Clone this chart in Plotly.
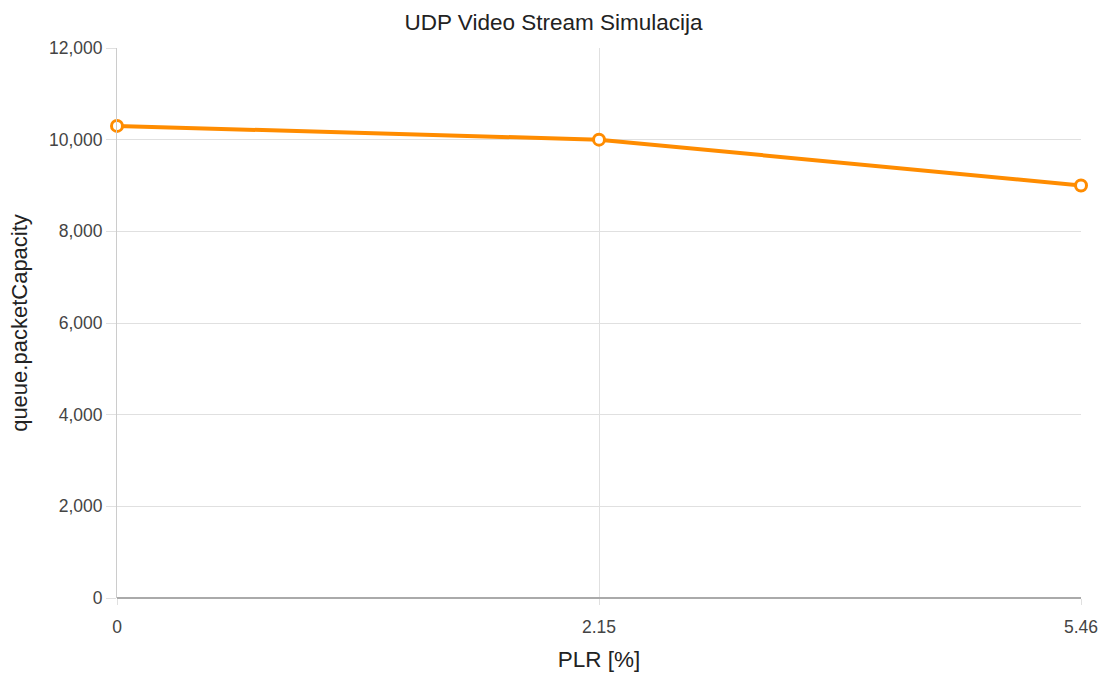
import plotly.graph_objects as go

# PLR categories and queue capacity measured at each
plr_labels = ["0", "2.15", "5.46"]
packet_capacity = [10300, 10000, 9000]
y_ticks = [0, 2000, 4000, 6000, 8000, 10000, 12000]

orange = "#ff8c00"
grid = "#e0e0e0"
font = "Liberation Sans, Arial, sans-serif"

fig = go.Figure(
    go.Scatter(
        x=plr_labels,
        y=packet_capacity,
        mode="lines+markers",
        line=dict(color=orange, width=4),
        marker=dict(symbol="circle", size=11, color="white",
                    line=dict(color=orange, width=3)),
        cliponaxis=False,
        hoverinfo="x+y",
    )
)

fig.update_layout(
    width=1107,
    height=673,
    paper_bgcolor="white",
    plot_bgcolor="white",
    margin=dict(l=117, r=26, t=48, b=75),
    showlegend=False,
    font=dict(family=font, color="#222222"),
    title=dict(text="UDP Video Stream Simulacija", x=0.5, xanchor="center",
               y=0.967, yanchor="middle", font=dict(size=22.5, color="#222222")),
)

fig.update_xaxes(
    type="category",
    range=[0, 2],
    automargin=False,
    showgrid=True,
    gridcolor=grid,
    gridwidth=1,
    showline=False,
    zeroline=False,
    ticks="outside",
    ticklen=6,
    tickcolor=grid,
    ticklabelstandoff=7,
    tickfont=dict(size=17.5, color="#444444"),
    title=dict(text="PLR [%]", font=dict(size=22.5, color="#222222"), standoff=15),
)

fig.update_yaxes(
    range=[0, 12000],
    tickvals=y_ticks,
    tickformat=",d",
    automargin=False,
    showgrid=True,
    gridcolor=grid,
    gridwidth=1,
    zeroline=True,
    zerolinecolor="#aaaaaa",
    zerolinewidth=2,
    showline=True,
    linecolor="#cccccc",
    linewidth=1,
    ticks="outside",
    ticklen=10,
    tickcolor=grid,
    tickfont=dict(size=17.5, color="#444444"),
    title=dict(text="queue.packetCapacity", font=dict(size=22, color="#222222"), standoff=15),
)

fig.write_html("out.html")
